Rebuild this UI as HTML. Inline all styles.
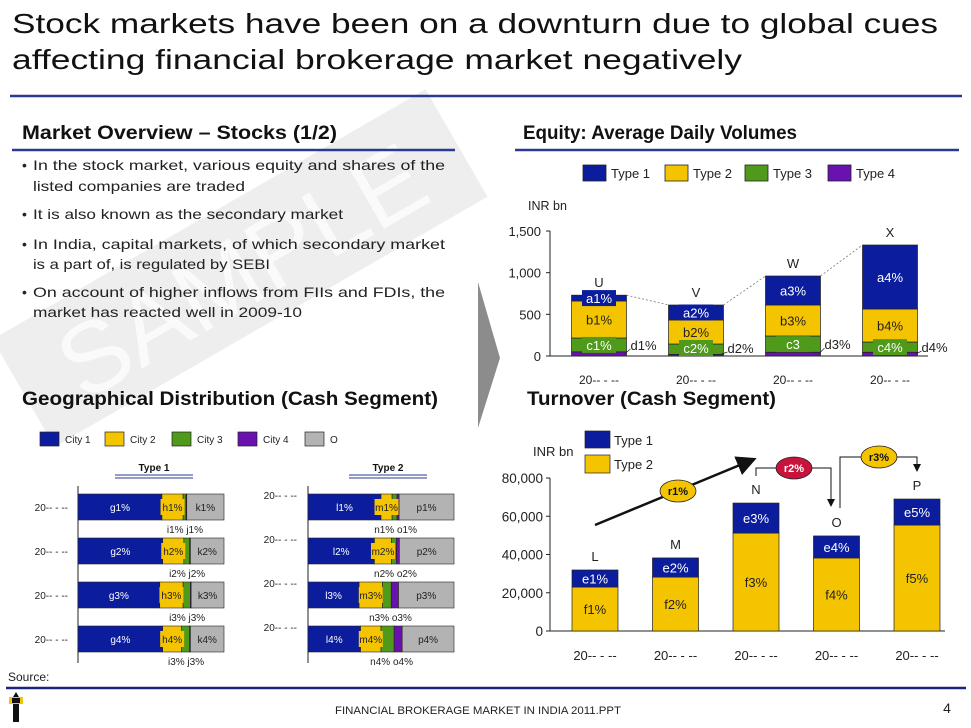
<!DOCTYPE html>
<html><head><meta charset="utf-8"><style>
html,body{margin:0;padding:0;background:#fff;}
svg{display:block;font-family:"Liberation Sans",sans-serif;}
</style></head><body>
<svg id="slide" width="971" height="728" viewBox="0 0 971 728" xmlns="http://www.w3.org/2000/svg">
<rect width="971" height="728" fill="#fff"/>
<!-- watermark -->
<g transform="translate(240,268) rotate(-30)">
<rect x="-250" y="-62" width="500" height="124" fill="#eeeeee"/>
<text x="0" y="38" text-anchor="middle" font-size="100" fill="#fafafa">SAMPLE</text>
</g>
<!-- title -->
<text x="12" y="33" font-size="28" fill="#111" textLength="926" lengthAdjust="spacingAndGlyphs">Stock markets have  been on a downturn due to global cues</text>
<text x="12" y="69" font-size="28" fill="#111" textLength="730" lengthAdjust="spacingAndGlyphs">affecting financial brokerage market negatively</text>
<line x1="10" y1="96" x2="962" y2="96" stroke="#2b3990" stroke-width="2.5"/>
<!-- headings -->
<text x="22" y="139" font-size="19" font-weight="bold" fill="#111" textLength="315" lengthAdjust="spacingAndGlyphs">Market Overview – Stocks (1/2)</text>
<line x1="12" y1="150" x2="455" y2="150" stroke="#2b3990" stroke-width="2.5"/>
<text x="523" y="139" font-size="19" font-weight="bold" fill="#111" textLength="274" lengthAdjust="spacingAndGlyphs">Equity: Average Daily Volumes</text>
<line x1="515" y1="150" x2="959" y2="150" stroke="#2b3990" stroke-width="2.5"/>
<text x="22" y="405" font-size="19" font-weight="bold" fill="#111" textLength="416" lengthAdjust="spacingAndGlyphs">Geographical Distribution (Cash Segment)</text>
<text x="527" y="405" font-size="19" font-weight="bold" fill="#111" textLength="249" lengthAdjust="spacingAndGlyphs">Turnover (Cash Segment)</text>
<!-- bullets -->
<g font-size="14" fill="#222">
<text x="22" y="170">•</text><text x="33" y="170" textLength="412" lengthAdjust="spacingAndGlyphs">In the stock market, various equity and shares of the</text>
<text x="33" y="191" textLength="212" lengthAdjust="spacingAndGlyphs">listed companies are traded</text>
<text x="22" y="219">•</text><text x="33" y="219" textLength="310" lengthAdjust="spacingAndGlyphs">It is also known as the secondary market</text>
<text x="22" y="249">•</text><text x="33" y="249" textLength="412" lengthAdjust="spacingAndGlyphs">In India, capital markets, of which secondary market</text>
<text x="33" y="269" textLength="237" lengthAdjust="spacingAndGlyphs">is a part of, is regulated by SEBI</text>
<text x="22" y="297">•</text><text x="33" y="297" textLength="412" lengthAdjust="spacingAndGlyphs">On account of higher inflows from FIIs and FDIs, the</text>
<text x="33" y="317" textLength="269" lengthAdjust="spacingAndGlyphs">market has reacted well in 2009-10</text>
</g>
<polygon points="478,282 500,358 478,428" fill="#8c8c8c"/>
<!-- footer -->
<text x="8" y="681" font-size="12" fill="#222">Source:</text>
<line x1="6" y1="688" x2="966" y2="688" stroke="#1a237e" stroke-width="2.5"/>
<g>
<rect x="13" y="700" width="6" height="22" fill="#111"/><rect x="9" y="697" width="14" height="7" fill="#f5c400"/><rect x="12" y="698" width="8" height="5" fill="#111"/><polygon points="13,697 16,692 19,697" fill="#111"/>
</g>
<text x="478" y="714" font-size="11" text-anchor="middle" fill="#222" textLength="286" lengthAdjust="spacingAndGlyphs">FINANCIAL BROKERAGE MARKET IN INDIA 2011.PPT</text>
<text x="947" y="713" font-size="14" text-anchor="middle" fill="#222">4</text>
<g id="eq"></g><g id="geo"></g><g id="turn"></g>
</svg>
<script>
// ===== Equity chart data =====
const eqCats = ['U','V','W','X'];
const eqXLabels = ['20-- - --','20-- - --','20-- - --','20-- - --'];
const eqType1 = [70,180,348,768];
const eqType2 = [444,288,372,396];
const eqType3 = [166,124,195,123];
const eqType4 = [50,20,45,45];
const eqLblA = ['a1%','a2%','a3%','a4%'];
const eqLblB = ['b1%','b2%','b3%','b4%'];
const eqLblC = ['c1%','c2%','c3','c4%'];
const eqLblD = ['d1%','d2%','d3%','d4%'];
const eqTicks = [0,500,1000,1500];
const eqTickLabels = ['0','500','1,000','1,500'];
// ===== Geographic chart data =====
const geoRows = ['20-- - --','20-- - --','20-- - --','20-- - --'];
const t1City1 = [57.5,58,56,58];
const t1City2 = [14.5,14.5,16,13];
const t1City3 = [2,4,5,5.5];
const t1City4 = [0.5,0.5,0.5,0.5];
const t1Other = [25.5,23,22.5,23];
const t2City1 = [50,45.5,35,36];
const t2City2 = [7.6,11.7,16,14];
const t2City3 = [3.4,3.4,6,9];
const t2City4 = [1.4,2,5,5.5];
const t2Other = [37.6,37.4,38,35.5];
const t1LblG = ['g1%','g2%','g3%','g4%'];
const t1LblH = ['h1%','h2%','h3%','h4%'];
const t1LblK = ['k1%','k2%','k3%','k4%'];
const t1LblIJ = ['i1% j1%','i2% j2%','i3% j3%','i3% j3%'];
const t2LblL = ['l1%','l2%','l3%','l4%'];
const t2LblM = ['m1%','m2%','m3%','m4%'];
const t2LblP = ['p1%','p2%','p3%','p4%'];
const t2LblNO = ['n1% o1%','n2% o2%','n3% o3%','n4% o4%'];
// ===== Turnover chart data =====
const tuCats = ['L','M','N','O','P'];
const tuXLabels = ['20-- - --','20-- - --','20-- - --','20-- - --','20-- - --'];
const tuType2 = [23000,28200,51200,38200,55400];
const tuType1 = [8900,10000,15700,11500,13600];
const tuLblE = ['e1%','e2%','e3%','e4%','e5%'];
const tuLblF = ['f1%','f2%','f3%','f4%','f5%'];
const tuTicks = [0,20000,40000,60000,80000];
const tuTickLabels = ['0','20,000','40,000','60,000','80,000'];

const NS='http://www.w3.org/2000/svg';
const BLUE='#0b1d9c',YEL='#f5c400',GRN='#4f9a1a',PUR='#6a12b0',GRY='#b3b3b3';
function mk(parent,tag,attrs,txt){const e=document.createElementNS(NS,tag);for(const k in attrs)e.setAttribute(k,attrs[k]);if(txt!==undefined)e.textContent=txt;parent.appendChild(e);return e;}

// ---------- Equity ----------
(function(){
const g=document.getElementById('eq');
const y0=356, pxPer=125/1500;
const yS=v=>y0-v*pxPer;
const xC=i=>599+i*97;
const bw=55;
const legend=[['Type 1',BLUE,583],['Type 2',YEL,665],['Type 3',GRN,745],['Type 4',PUR,828]];
legend.forEach(l=>{
 const r=mk(g,'rect',{x:l[2],y:165,width:23,height:16,fill:l[1],stroke:'#222','stroke-width':0.8});
 
 
 const t=mk(g,'text',{x:l[2]+28,y:178,'font-size':13,fill:'#222'},l[0]);
 
 
});
const u=mk(g,'text',{x:528,y:210,'font-size':12.5,fill:'#222'},'INR bn');


const ax=mk(g,'line',{x1:550,y1:yS(1500),x2:550,y2:y0,stroke:'#222'});


const xa=mk(g,'line',{x1:550,y1:y0,x2:928,y2:y0,stroke:'#222'});


eqTicks.forEach((v,i)=>{
 mk(g,'line',{x1:546,y1:yS(v),x2:550,y2:yS(v),stroke:'#222'});
 const t=mk(g,'text',{x:541,y:yS(v)+5,'font-size':13,'text-anchor':'end',fill:'#222'},eqTickLabels[i]);
 
 
});
eqCats.forEach((c,i)=>{
 const x=xC(i)-bw/2;
 const segs=[[eqType4[i],PUR],[eqType3[i],GRN],[eqType2[i],YEL],[eqType1[i],BLUE]];
 let cum=0;const tops=[];
 segs.forEach((s,k)=>{
  const r=mk(g,'rect',{x:x,y:yS(cum+s[0]),width:bw,height:s[0]*pxPer,fill:s[1],stroke:'#222','stroke-width':0.7});
  
  
  tops.push([yS(cum),yS(cum+s[0])]);
  cum+=s[0];
 });
 const tot=cum;
 const cl=mk(g,'text',{x:xC(i),y:yS(tot)-8,'font-size':13,'text-anchor':'middle',fill:'#222'},c);
 
 
 const ya=(tops[3][0]+tops[3][1])/2;
 mk(g,'rect',{x:xC(i)-17,y:ya-8,width:34,height:16,fill:BLUE});
 const ta=mk(g,'text',{x:xC(i),y:ya+5,'font-size':13,'text-anchor':'middle',fill:'#fff'},eqLblA[i]);
 
 
 const yb=(tops[2][0]+tops[2][1])/2;
 const tb=mk(g,'text',{x:xC(i),y:yb+5,'font-size':13,'text-anchor':'middle',fill:'#222'},eqLblB[i]);
 
 
 const yc=Math.min((tops[1][0]+tops[1][1])/2, y0-8);
 mk(g,'rect',{x:xC(i)-17,y:yc-8,width:34,height:16,fill:GRN});
 const tc=mk(g,'text',{x:xC(i),y:yc+5,'font-size':13,'text-anchor':'middle',fill:'#fff'},eqLblC[i]);
 
 
 mk(g,'line',{x1:xC(i)+bw/2-2,y1:y0-2,x2:xC(i)+bw/2+4,y2:yc+4,stroke:'#222','stroke-width':0.7});
 const td=mk(g,'text',{x:xC(i)+bw/2+4,y:yc+5,'font-size':13,fill:'#222'},eqLblD[i]);
 
 
 const tx=mk(g,'text',{x:xC(i),y:384,'font-size':12,'text-anchor':'middle',fill:'#222'},eqXLabels[i]);
 
 
 if(i>0){
  const pt=eqType4[i-1]+eqType3[i-1]+eqType2[i-1]+eqType1[i-1];
  mk(g,'line',{x1:xC(i-1)+bw/2,y1:yS(pt),x2:x,y2:yS(tot),stroke:'#666','stroke-width':0.7,'stroke-dasharray':'2,2'});
 }
});
})();

// ---------- Geographic ----------
(function(){
const g=document.getElementById('geo');
const leg=[['City 1',BLUE,40],['City 2',YEL,105],['City 3',GRN,172],['City 4',PUR,238],['O',GRY,305]];
leg.forEach(l=>{
 const r=mk(g,'rect',{x:l[2],y:432,width:19,height:14,fill:l[1],stroke:'#222','stroke-width':0.7});
 
 
 const t=mk(g,'text',{x:l[2]+25,y:443,'font-size':10,fill:'#222'},l[0]);
 
 
});
function panel(name,axX,rowLblX,rowLblDy,hdrX,series,lbl1,lbl2,lbl5,lblBelow){
 const ht=mk(g,'text',{x:hdrX,y:471,'font-size':10,'font-weight':'bold','text-anchor':'middle',fill:'#111'},name);
 
 
 mk(g,'line',{x1:hdrX-39,y1:475,x2:hdrX+39,y2:475,stroke:'#2b3990','stroke-width':1});
 mk(g,'line',{x1:hdrX-39,y1:478,x2:hdrX+39,y2:478,stroke:'#2b3990','stroke-width':1});
 const ax=mk(g,'line',{x1:axX,y1:486,x2:axX,y2:663,stroke:'#222'});
 
 
 const W=146,cols=[BLUE,YEL,GRN,PUR,GRY];
 geoRows.forEach((rl,i)=>{
  const y=494+i*44,h=26;
  let x=axX;const bounds=[];
  series.forEach((s,k)=>{
   const w=s[i]/100*W;
   const r=mk(g,'rect',{x:x,y:y,width:w,height:h,fill:cols[k],stroke:'#222','stroke-width':0.6});
   
   
   bounds.push([x,x+w]);x+=w;
  });
  const t=mk(g,'text',{x:rowLblX,y:y+h/2+4+rowLblDy,'font-size':10,'text-anchor':'end',fill:'#222'},rl);
  
  
  const c0=(bounds[0][0]+bounds[0][1])/2;
  const t1=mk(g,'text',{x:c0,y:y+h/2+4,'font-size':10,'text-anchor':'middle',fill:'#fff'},lbl1[i]);
  
  
  const c1=bounds[1][0]+ Math.max((bounds[1][1]-bounds[1][0])/2,0);
  mk(g,'rect',{x:c1-12,y:y+5,width:24,height:16,fill:YEL});
  const t2=mk(g,'text',{x:c1,y:y+h/2+4,'font-size':10,'text-anchor':'middle',fill:'#222'},lbl2[i]);
  
  
  const c4=(bounds[4][0]+bounds[4][1])/2;
  const t5=mk(g,'text',{x:c4,y:y+h/2+4,'font-size':10,'text-anchor':'middle',fill:'#222'},lbl5[i]);
  
  
  const mid=(bounds[2][0]+bounds[3][1])/2;
  const tb=mk(g,'text',{x:mid,y:y+h+13,'font-size':10,'text-anchor':'middle',fill:'#222'},lblBelow[i]);
  
  
 });
}
panel('Type 1',78,68,0,154,[t1City1,t1City2,t1City3,t1City4,t1Other],t1LblG,t1LblH,t1LblK,t1LblIJ);
panel('Type 2',308,297,-12,388,[t2City1,t2City2,t2City3,t2City4,t2Other],t2LblL,t2LblM,t2LblP,t2LblNO);
})();

// ---------- Turnover ----------
(function(){
const g=document.getElementById('turn');
const y0=631,pxPer=153/80000;
const yS=v=>y0-v*pxPer;
const xC=i=>595+i*80.5;
const bw=46;
const l1=mk(g,'rect',{x:585,y:431,width:25,height:17,fill:BLUE,stroke:'#222','stroke-width':0.7});


const l2=mk(g,'rect',{x:585,y:455,width:25,height:18,fill:YEL,stroke:'#222','stroke-width':0.7});


const lt1=mk(g,'text',{x:614,y:445,'font-size':13,fill:'#222'},'Type 1');


const lt2=mk(g,'text',{x:614,y:469,'font-size':13,fill:'#222'},'Type 2');


const u=mk(g,'text',{x:533,y:456,'font-size':13,fill:'#222'},'INR bn');


const ax=mk(g,'line',{x1:550,y1:yS(80000),x2:550,y2:y0,stroke:'#222'});


const xa=mk(g,'line',{x1:550,y1:y0,x2:945,y2:y0,stroke:'#222'});


tuTicks.forEach((v,i)=>{
 mk(g,'line',{x1:546,y1:yS(v),x2:550,y2:yS(v),stroke:'#222'});
 const t=mk(g,'text',{x:543,y:yS(v)+5,'font-size':13.5,'text-anchor':'end',fill:'#222'},tuTickLabels[i]);
 
 
});
tuCats.forEach((c,i)=>{
 const x=xC(i)-bw/2;
 const r2=mk(g,'rect',{x:x,y:yS(tuType2[i]),width:bw,height:tuType2[i]*pxPer,fill:YEL,stroke:'#222','stroke-width':0.7});
 
 
 const tot=tuType2[i]+tuType1[i];
 const r1=mk(g,'rect',{x:x,y:yS(tot),width:bw,height:tuType1[i]*pxPer,fill:BLUE,stroke:'#222','stroke-width':0.7});
 
 
 const te=mk(g,'text',{x:xC(i),y:(yS(tot)+yS(tuType2[i]))/2+5,'font-size':13,'text-anchor':'middle',fill:'#fff'},tuLblE[i]);
 
 
 const tf=mk(g,'text',{x:xC(i),y:(y0+yS(tuType2[i]))/2+5,'font-size':13,'text-anchor':'middle',fill:'#222'},tuLblF[i]);
 
 
 const tc=mk(g,'text',{x:xC(i),y:yS(tot)-9,'font-size':13,'text-anchor':'middle',fill:'#222'},c);
 
 
 const tx=mk(g,'text',{x:xC(i),y:660,'font-size':13,'text-anchor':'middle',fill:'#222'},tuXLabels[i]);
 
 
});
mk(g,'defs',{}).innerHTML='<marker id="ah" markerWidth="8" markerHeight="8" refX="6" refY="4" orient="auto"><path d="M0,0 L8,4 L0,8 z" fill="#111"/></marker>';
const a1=mk(g,'line',{x1:595,y1:525,x2:752,y2:460,stroke:'#111','stroke-width':2.5,'marker-end':'url(#ah)'});


mk(g,'polyline',{points:'756,476 756,468 831,468 831,505',fill:'none',stroke:'#111','stroke-width':1,'marker-end':'url(#ah)'});
mk(g,'polyline',{points:'840,508 840,457 917,457 917,470',fill:'none',stroke:'#111','stroke-width':1,'marker-end':'url(#ah)'});
[[678,491,YEL,'#111','r1%'],[794,468,'#c8143c','#fff','r2%'],[879,457,YEL,'#111','r3%']].forEach(e=>{
 const el=mk(g,'ellipse',{cx:e[0],cy:e[1],rx:18,ry:11,fill:e[2],stroke:'#222','stroke-width':0.8});
 
 
 const t=mk(g,'text',{x:e[0],y:e[1]+4,'font-size':11,'font-weight':'bold','text-anchor':'middle',fill:e[3]},e[4]);
 
 
});
})();
</script>
</body></html>
